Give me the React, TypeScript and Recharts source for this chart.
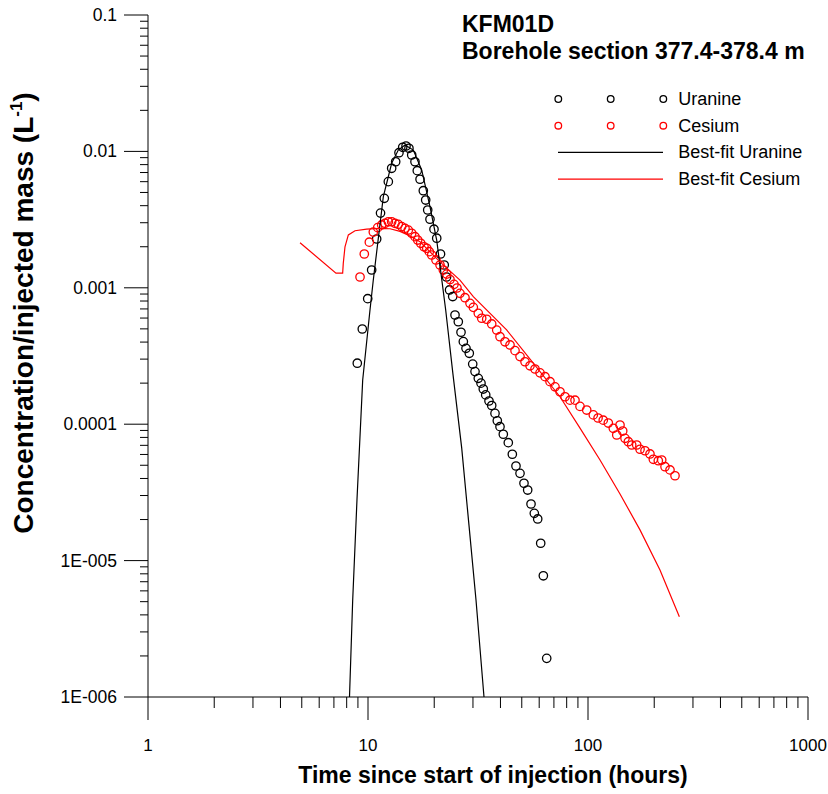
import { ScatterChart, Scatter, XAxis, YAxis, Legend } from "recharts";

const FONT = "Arial, 'Liberation Sans', sans-serif";

// ---- axes ----
const X_MAJOR = [1, 10, 100, 1000];
const X_LABELS = ["1", "10", "100", "1000"];
const Y_MAJOR = [1e-6, 1e-5, 1e-4, 1e-3, 1e-2, 1e-1];
const Y_LABELS = ["1E-006", "1E-005", "0.0001", "0.001", "0.01", "0.1"];
const MINOR_STEPS = [2, 3, 4, 5, 6, 7, 8, 9];

// ---- measured data (time in hours, C/M in 1/L) ----
const URANINE_T = [
  8.94, 9.42, 9.97, 10.39, 10.95, 11.4, 11.86, 12.37, 12.81, 13.36, 13.83, 14.38, 14.89, 15.35, 15.8,
  16.35, 16.75, 17.24, 17.84, 18.29, 18.68, 19.13, 19.95, 20.53, 21.36, 22.21, 22.75, 23.48, 24.27,
  24.86, 25.73, 26.47, 27.12, 27.89, 28.87, 29.92, 30.65, 31.72, 32.63, 33.42, 34.28, 35.48, 36.5,
  37.78, 38.7, 39.81, 41.21, 43.42, 45.29, 47.06, 49.09, 51.17, 53.19, 55.08, 57.01, 59.07, 60.95,
  62.66, 64.91,
];
const URANINE_C = [
  2.8e-4, 4.99e-4, 8.32e-4, 1.35e-3, 2.28e-3, 3.53e-3, 4.53e-3, 6.0e-3, 7.52e-3, 8.4e-3, 9.78e-3,
  1.072e-2, 1.095e-2, 1.054e-2, 9.41e-3, 8.4e-3, 7.22e-3, 6.25e-3, 5.15e-3, 4.4e-3, 3.72e-3, 3.18e-3,
  2.69e-3, 2.31e-3, 1.77e-3, 1.47e-3, 1.2e-3, 9.64e-4, 8.63e-4, 6.32e-4, 5.64e-4, 4.72e-4, 4.03e-4,
  3.6e-4, 3.31e-4, 2.76e-4, 2.43e-4, 2.17e-4, 2.0e-4, 1.81e-4, 1.64e-4, 1.48e-4, 1.37e-4, 1.2e-4,
  1.06e-4, 9.59e-5, 8.44e-5, 7.32e-5, 6.02e-5, 4.94e-5, 4.36e-5, 3.69e-5, 3.29e-5, 2.6e-5, 2.22e-5,
  2.02e-5, 1.34e-5, 7.74e-6, 1.92e-6,
];

const CESIUM_T = [
  9.2, 9.62, 10.14, 10.57, 11.07, 11.54, 11.95, 12.37, 12.81, 13.27, 13.73, 14.23, 14.73, 15.25, 15.8,
  16.35, 16.82, 17.36, 17.97, 18.49, 18.99, 19.48, 20.37, 21.25, 22.0, 22.79, 23.59, 24.6, 25.38,
  26.19, 27.6, 29.08, 30.11, 31.72, 32.87, 34.64, 36.5, 38.46, 39.81, 41.95, 44.21, 46.59, 49.09,
  51.72, 54.51, 57.43, 60.52, 63.77, 67.2, 70.79, 74.6, 78.62, 82.82, 87.29, 91.97, 98.65, 105.7,
  111.1, 117.3, 123.7, 130.3, 135.1, 139.8, 143.8, 147.3, 152.5, 158.0, 166.5, 172.4, 181.6, 191.3,
  198.1, 208.7, 216.3, 223.9, 235.9, 248.6,
];
const CESIUM_C = [
  1.2e-3, 1.77e-3, 2.16e-3, 2.56e-3, 2.76e-3, 2.89e-3, 2.97e-3, 3.05e-3, 3.05e-3, 2.97e-3, 2.92e-3,
  2.81e-3, 2.73e-3, 2.65e-3, 2.51e-3, 2.37e-3, 2.24e-3, 2.12e-3, 2.0e-3, 1.95e-3, 1.84e-3, 1.74e-3,
  1.6e-3, 1.47e-3, 1.35e-3, 1.26e-3, 1.15e-3, 1.06e-3, 9.97e-4, 9.11e-4, 8.46e-4, 7.69e-4, 7.19e-4,
  6.5e-4, 5.98e-4, 5.88e-4, 5.43e-4, 4.9e-4, 4.38e-4, 4.02e-4, 3.81e-4, 3.46e-4, 3.13e-4, 2.87e-4,
  2.68e-4, 2.54e-4, 2.38e-4, 2.23e-4, 2.05e-4, 1.88e-4, 1.73e-4, 1.59e-4, 1.5e-4, 1.5e-4, 1.35e-4,
  1.27e-4, 1.17e-4, 1.11e-4, 1.07e-4, 1.02e-4, 9.33e-5, 8.33e-5, 9.86e-5, 8.91e-5, 7.88e-5, 7.44e-5,
  7.04e-5, 7.04e-5, 6.55e-5, 6.39e-5, 6.05e-5, 5.53e-5, 5.4e-5, 5.46e-5, 4.88e-5, 4.62e-5, 4.19e-5,
];

// ---- model fits ----
const URANINE_FIT_T = [
  8.24, 8.52, 8.91, 9.46, 10.21, 10.57, 11.74, 12.81, 13.73, 14.73, 16.07, 17.54, 19.13, 20.52,
  22.55, 24.3, 26.66, 28.77, 30.97, 33.67,
];
const URANINE_FIT_C = [
  1.0e-6, 5.14e-6, 2.78e-5, 2.11e-4, 6.87e-4, 1.14e-3, 4.66e-3, 8.18e-3, 1.023e-2, 1.114e-2,
  1.023e-2, 7.31e-3, 3.94e-3, 2.24e-3, 6.87e-4, 2.37e-4, 6.7e-5, 1.82e-5, 5.14e-6, 1.0e-6,
];
const CESIUM_FIT_T = [
  4.91, 7.15, 7.67, 7.72, 7.86, 8.14, 8.73, 9.86, 11.34, 12.59, 13.98, 15.52, 17.22, 21.24, 26.18,
  30.11, 42.67, 56.39, 74.6, 91.97, 113.4, 139.8, 172.3, 212.4, 260.2,
];
const CESIUM_FIT_C = [
  2.14e-3, 1.28e-3, 1.28e-3, 1.51e-3, 2.0e-3, 2.44e-3, 2.62e-3, 2.69e-3, 2.73e-3, 2.71e-3, 2.59e-3,
  2.4e-3, 2.18e-3, 1.55e-3, 1.14e-3, 8.61e-4, 4.91e-4, 2.8e-4, 1.59e-4, 9.37e-5, 5.46e-5, 3.08e-5,
  1.68e-5, 8.53e-6, 3.88e-6,
];

const LEGEND_ITEMS = [
  { label: "Uranine", color: "#000000", kind: "marker" },
  { label: "Cesium", color: "#ff0000", kind: "marker" },
  { label: "Best-fit Uranine", color: "#000000", kind: "line" },
  { label: "Best-fit Cesium", color: "#ff0000", kind: "line" },
];

const zip = (xs: number[], ys: number[]) => xs.map((x, i) => ({ x, y: ys[i] }));

function withMinors(majors: number[]) {
  const out = [...majors];
  for (let i = 0; i < majors.length - 1; i++) {
    for (const m of MINOR_STEPS) out.push(majors[i] * m);
  }
  return out.sort((a, b) => a - b);
}

const X_TICKS = withMinors(X_MAJOR);
const Y_TICKS = withMinors(Y_MAJOR);

const XTick = (props: any) => {
  const { x, y, payload } = props;
  const i = X_MAJOR.indexOf(payload.value);
  if (i < 0) return <line x1={x} x2={x} y1={y} y2={y + 11} stroke="#000" />;
  return (
    <g>
      <line x1={x} x2={x} y1={y} y2={y + 23} stroke="#000" />
      <text x={x} y={y + 54} textAnchor="middle" fontSize={17} fontFamily={FONT} fill="#000">
        {X_LABELS[i]}
      </text>
    </g>
  );
};

const YTick = (props: any) => {
  const { x, y, payload } = props;
  const i = Y_MAJOR.indexOf(payload.value);
  if (i < 0) return <line x1={x - 8} x2={x} y1={y} y2={y} stroke="#000" />;
  return (
    <g>
      <line x1={x - 24} x2={x} y1={y} y2={y} stroke="#000" />
      <text x={x - 31} y={y + 6} textAnchor="end" fontSize={17.5} fontFamily={FONT} fill="#000">
        {Y_LABELS[i]}
      </text>
    </g>
  );
};

const circleShape = (color: string) => (p: any) =>
  <circle cx={p.cx} cy={p.cy} r={4.2} fill="none" stroke={color} strokeWidth={1.3} />;

const noShape = () => <g />;

const LegendBox = () => (
  <svg width={280} height={110} style={{ overflow: "visible" }}>
    {LEGEND_ITEMS.map((it, i) => {
      const cy = 14 + i * 26.7;
      return (
        <g key={it.label}>
          {it.kind === "marker" ? (
            [18.3, 70.7, 123.3].map((cx) => (
              <circle key={cx} cx={cx} cy={cy} r={3.3} fill="none" stroke={it.color} strokeWidth={1.3} />
            ))
          ) : (
            <line x1={18} x2={123} y1={cy} y2={cy} stroke={it.color} strokeWidth={1.2} />
          )}
          <text x={138.3} y={cy + 6} fontSize={18} fontFamily={FONT} fill="#000">
            {it.label}
          </text>
        </g>
      );
    })}
  </svg>
);

export default function App() {
  return (
    <div style={{ position: "absolute", left: 0, top: 0, width: 828, height: 794, background: "#fff" }}>
      <ScatterChart width={828} height={794} margin={{ top: 15, right: 20, bottom: 0, left: 0 }}>
        <XAxis
          type="number"
          dataKey="x"
          scale="log"
          domain={[1, 1000]}
          ticks={X_TICKS}
          interval={0}
          tick={XTick}
          tickLine={false}
          tickSize={0}
          tickMargin={0}
          height={97}
          axisLine={{ stroke: "#000" }}
          allowDataOverflow
        />
        <YAxis
          type="number"
          dataKey="y"
          scale="log"
          domain={[1e-6, 0.1]}
          ticks={Y_TICKS}
          interval={0}
          tick={YTick}
          tickLine={false}
          tickSize={0}
          tickMargin={0}
          width={148}
          axisLine={{ stroke: "#000" }}
          allowDataOverflow
        />
        <Legend
          content={LegendBox}
          layout="horizontal"
          verticalAlign="middle"
          align="center"
          wrapperStyle={{ left: 540, top: 85, width: 280, height: 110 }}
        />
        <Scatter name="Uranine" data={zip(URANINE_T, URANINE_C)} shape={circleShape("#000")} isAnimationActive={false} />
        <Scatter name="Cesium" data={zip(CESIUM_T, CESIUM_C)} shape={circleShape("#ff0000")} isAnimationActive={false} />
        <Scatter
          name="Best-fit Uranine"
          data={zip(URANINE_FIT_T, URANINE_FIT_C)}
          line={{ stroke: "#000", strokeWidth: 1.2 }}
          shape={noShape}
          isAnimationActive={false}
        />
        <Scatter
          name="Best-fit Cesium"
          data={zip(CESIUM_FIT_T, CESIUM_FIT_C)}
          line={{ stroke: "#ff0000", strokeWidth: 1.2 }}
          shape={noShape}
          isAnimationActive={false}
        />
      </ScatterChart>
      <svg
        width={828}
        height={794}
        style={{ position: "absolute", left: 0, top: 0, pointerEvents: "none" }}
        fontFamily={FONT}
      >
        <text x={462} y={32} fontSize={23} fontWeight="bold">KFM01D</text>
        <text x={462} y={59} fontSize={23} fontWeight="bold">Borehole section 377.4-378.4 m</text>
        <text x={493} y={783} fontSize={23} fontWeight="bold" textAnchor="middle">
          Time since start of injection (hours)
        </text>
        <text x={33} y={313} fontSize={28} fontWeight="bold" textAnchor="middle" transform="rotate(-90 33 313)">
          Concentration/injected mass (L
          <tspan fontSize={17} dy={-11}>-1</tspan>
          <tspan dy={11}>)</tspan>
        </text>
      </svg>
    </div>
  );
}
